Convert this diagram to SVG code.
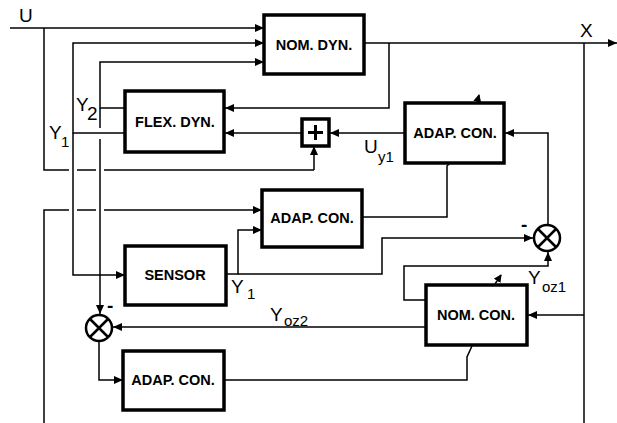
<svg xmlns="http://www.w3.org/2000/svg" width="617" height="423" viewBox="0 0 617 423">
<defs>
<marker id="ah" markerWidth="10" markerHeight="10" refX="9" refY="5" orient="auto" markerUnits="userSpaceOnUse">
<path d="M0,1 L9,5 L0,9 Z" fill="#000"/>
</marker>
<marker id="sa" markerWidth="8" markerHeight="9" refX="7" refY="4" orient="auto" markerUnits="userSpaceOnUse">
<path d="M0,0 L8,4 L0,8 Z" fill="#000"/>
</marker>
</defs>
<style>
.box{fill:#fff;stroke:#000;stroke-width:3.5}
.bl{font-family:"Liberation Sans",Arial,sans-serif;font-weight:bold;font-size:14.5px;text-anchor:middle;dominant-baseline:central}
.lb{font-family:"Liberation Sans",Arial,sans-serif;font-size:19px}
.sb{font-family:"Liberation Sans",Arial,sans-serif;font-size:15px}
.ln{fill:none;stroke:#000;stroke-width:1.5}
.ar{marker-end:url(#ah)}
.sum{fill:#fff;stroke:#000;stroke-width:2.5}
</style>
<g id="connectors">
<path class="ln ar" d="M10,28 H264"/>
<path class="ln" d="M44,28 V170 H69 M77,170 H96 M104,170 H314"/>
<path class="ln ar" d="M314,170 V146"/>
<path class="ln ar" d="M125,133 H73 V43 H264"/>
<path class="ln ar" d="M73,133 V275 H125"/>
<path class="ln ar" d="M125,108 H100 V62 H264"/>
<path class="ln" d="M100,108 V128"/>
<path class="ln ar" d="M100,139 V314"/>
<path class="ln ar" d="M364,43 H617"/>
<path class="ln ar" d="M389,43 V108 H225"/>
<path class="ln" d="M584,43 V423"/>
<path class="ln ar" d="M302,133 H225"/>
<path class="ln ar" d="M405,133 H330"/>
<path class="ln" d="M44,423 V210 H69 M77,210 H96"/>
<path class="ln ar" d="M104,210 H262"/>
<path class="ln ar" d="M226,274 H238 V230 H262"/>
<path class="ln ar" d="M238,274 H382 V238 H533"/>
<path class="ln" d="M362,217 H447 V166 L450,163"/>
<path class="ln ar" d="M548,225 V133 H505"/>
<path class="ln ar" d="M584,315 H528"/>
<path class="ln ar" d="M426,300 H404 V266 H548 V252"/>
<path class="ln ar" d="M426,327 H113"/>
<path class="ln ar" d="M99,341 V380 H123"/>
<path class="ln" d="M224,380 H467 V357 L472,346"/>
<path class="ln" d="M477,103 L479,95" style="marker-end:url(#sa)"/>
<path class="ln" d="M495,284 L501,275" style="marker-end:url(#sa)"/>
</g>
<g id="nom-dyn"><rect class="box" x="264" y="15" width="100" height="59"/><text class="bl" x="314" y="45">NOM. DYN.</text></g>
<g id="flex-dyn"><rect class="box" x="125" y="91" width="99" height="61"/><text class="bl" x="175" y="122">FLEX. DYN.</text></g>
<g id="plus"><rect class="box" x="302" y="119" width="27" height="27"/><path d="M315.5,125 V140 M308,132.5 H323" stroke="#000" stroke-width="3"/></g>
<g id="adap-con-1"><rect class="box" x="405" y="103" width="99" height="60"/><text class="bl" x="455" y="133">ADAP. CON.</text></g>
<g id="adap-con-2"><rect class="box" x="262" y="190" width="100" height="57"/><text class="bl" x="312" y="218">ADAP. CON.</text></g>
<g id="sensor"><rect class="box" x="125" y="246" width="101" height="59"/><text class="bl" x="175" y="275">SENSOR</text></g>
<g id="nom-con"><rect class="box" x="426" y="285" width="101" height="60"/><text class="bl" x="476" y="315">NOM. CON.</text></g>
<g id="adap-con-3"><rect class="box" x="123" y="351" width="101" height="59"/><text class="bl" x="173" y="380">ADAP. CON.</text></g>
<g id="sum-1"><circle class="sum" cx="547" cy="238" r="13"/><path d="M538,229 L556,247 M556,229 L538,247" stroke="#000" stroke-width="2.5"/></g>
<g id="sum-2"><circle class="sum" cx="99" cy="328" r="13"/><path d="M90,319 L108,337 M108,319 L90,337" stroke="#000" stroke-width="2.5"/></g>
<g id="labels">
<text class="lb" x="19" y="22">U</text>
<text class="lb" x="580" y="37">X</text>
<text class="lb" x="76" y="111">Y</text><text class="lb" x="87" y="120">2</text>
<text class="lb" x="49" y="139">Y</text><text class="sb" x="61" y="147">1</text>
<text class="lb" x="364" y="153">U</text><text class="sb" x="378" y="162">y1</text>
<text class="lb" x="231" y="293">Y</text><text class="sb" x="247" y="299">1</text>
<text class="lb" x="270" y="321">Y</text><text class="sb" x="284" y="326">oz2</text>
<text class="lb" x="528" y="284">Y</text><text class="sb" x="542" y="292">oz1</text>
<text class="lb" x="521" y="231" font-weight="bold">-</text>
<text class="lb" x="107" y="312" font-weight="bold">-</text>
</g>
</svg>
